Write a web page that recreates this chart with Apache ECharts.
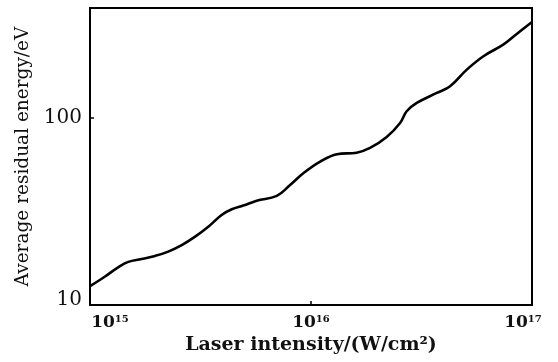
<!DOCTYPE html>
<html>
<head>
<meta charset="utf-8">
<script src="https://cdn.jsdelivr.net/npm/echarts@6/dist/echarts.min.js"></script>
<style>
  html, body { margin: 0; padding: 0; background: #fff; }
  #chart { width: 558px; height: 362px; }
</style>
</head>
<body>
<div id="chart"></div>
<script>
// laser intensity (W/cm2)
const intensity = [
  1.00e15, 1.17e15, 1.34e15, 1.49e15, 1.71e15, 1.97e15, 2.26e15, 2.60e15,
  2.99e15, 3.43e15, 3.94e15, 4.38e15, 4.94e15, 5.68e15, 7.00e15, 8.04e15,
  9.23e15, 1.10e16, 1.31e16, 1.61e16, 1.85e16, 2.20e16, 2.53e16, 2.71e16,
  3.01e16, 3.71e16, 4.26e16, 5.07e16, 6.03e16, 7.41e16, 8.53e16, 1.00e17
];
// average residual energy (eV)
const energy = [
  12.6, 14.2, 15.9, 17.0, 17.6, 18.3, 19.3, 20.9,
  23.2, 26.2, 30.3, 32.5, 34.0, 36.1, 38.3, 43.8,
  50.6, 58.4, 64.0, 65.2, 69.1, 79.1, 94.0, 108.6,
  120.3, 136.1, 147.7, 181.3, 213.8, 246.6, 281.3, 326.1
];
const xTickExponents = [15, 16, 17];
const yTickLabels = [10, 100];

const serif = "'DejaVu Serif', 'Liberation Serif', serif";

const chart = echarts.init(document.getElementById("chart"));

const option = {
  animation: false,
  grid: {
    left: 90,
    right: 26,
    top: 8,
    bottom: 57,
    show: true,
    borderColor: "#000",
    borderWidth: 2,
  },
  xAxis: {
    type: "log",
    logBase: 10,
    min: 1e15,
    max: 1e17,
    name: "Laser intensity/(W/cm²)",
    nameLocation: "middle",
    nameGap: 31,
    nameTextStyle: {
      fontFamily: serif,
      fontSize: 19,
      fontWeight: "bold",
      color: "#111",
    },
    axisLine: { show: true, lineStyle: { color: "#000", width: 2 } },
    axisTick: { show: true, inside: true, length: 4, lineStyle: { color: "#000", width: 1.5 } },
    splitLine: { show: false },
    axisLabel: {
      margin: 9,
      formatter: (v) => {
        const e = Math.round(Math.log10(v));
        if (!xTickExponents.includes(e)) return "";
        // first label sits right of the corner, last one a bit inside it
        if (e === xTickExponents[0]) return "{first|10}{s|" + e + "}";
        if (e === xTickExponents[xTickExponents.length - 1]) return "{b|10}{last|" + e + "}";
        return "{b|10}{s|" + e + "}";
      },
      rich: {
        b: { fontFamily: serif, fontSize: 17, fontWeight: "bold", color: "#111" },
        first: { fontFamily: serif, fontSize: 17, fontWeight: "bold", color: "#111", padding: [0, 0, 0, 40] },
        s: { fontFamily: serif, fontSize: 10, fontWeight: "bold", color: "#111", verticalAlign: "top" },
        last: { fontFamily: serif, fontSize: 10, fontWeight: "bold", color: "#111", verticalAlign: "top", padding: [0, 18, 0, 0] },
      },
    },
  },
  yAxis: {
    type: "log",
    logBase: 10,
    min: 10,
    max: 387,
    name: "Average residual energy/eV",
    nameLocation: "middle",
    nameGap: 53,
    nameTextStyle: {
      fontFamily: serif,
      fontSize: 18.5,
      color: "#111",
    },
    axisLine: { show: true, lineStyle: { color: "#000", width: 2 } },
    axisTick: { show: true, inside: true, length: 4, lineStyle: { color: "#000", width: 1.5 } },
    splitLine: { show: false },
    axisLabel: {
      margin: 8,
      formatter: (v) => {
        const r = Math.round(v);
        if (!(yTickLabels.includes(r) && Math.abs(v - r) < 1e-6)) return "";
        return r === yTickLabels[0] ? "{lo|" + r + "}" : "{n|" + r + "}";
      },
      rich: {
        n: { fontFamily: serif, fontSize: 20, color: "#111" },
        lo: { fontFamily: serif, fontSize: 20, color: "#111", padding: [0, 0, 10, 0] },
      },
    },
  },
  series: [
    {
      type: "line",
      data: intensity.map((x, i) => [x, energy[i]]),
      smooth: 0.4,
      showSymbol: false,
      lineStyle: { color: "#000", width: 2.6 },
    },
  ],
};

chart.setOption(option);
</script>
</body>
</html>
